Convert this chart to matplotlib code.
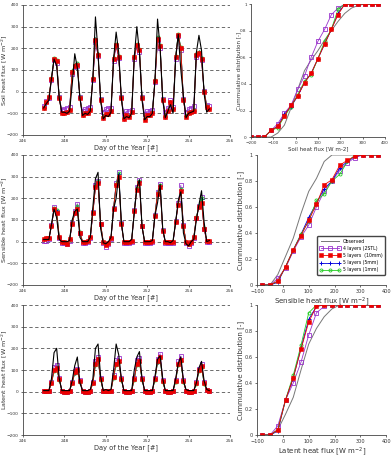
import numpy as np
import matplotlib
matplotlib.use('Agg')
import matplotlib.pyplot as plt

# 3-hourly time axis, day of year 247 - 255
doy = [247 + k * 0.125 for k in range(65)]

# Soil heat flux [W m-2]
soil_obs = [-75, -55, -40, 60, 150, 120, -30, -95,
            -95, -100, -90, 30, 175, 110, -30, -110,
            -100, -105, -90, 60, 345, 180, -40, -125,
            -110, -115, -95, 150, 275, 180, -30, -125,
            -115, -120, -100, 160, 300, 180, -40, -130,
            -115, -115, -100, 50, 335, 200, -40, -120,
            -90, -60, -100, 150, 265, 100, -20, -120,
            -100, -95, -90, 180, 260, 190, -10, -95,
            -80]
soil_l4 = [-65, -45, -30, 55, 145, 130, -25, -85,
           -80, -75, -70, 80, 115, 120, -25, -90,
           -80, -75, -70, 55, 230, 165, -35, -95,
           -80, -75, -75, 140, 210, 155, -25, -105,
           -90, -90, -85, 150, 210, 185, -25, -105,
           -90, -90, -85, 45, 240, 200, -35, -95,
           -75, -40, -70, 150, 255, 190, -35, -95,
           -80, -75, -65, 160, 175, 145, 5, -60,
           -65]
soil_10mm = [-75, -50, -25, 60, 150, 140, -30, -100,
             -100, -95, -85, 90, 120, 125, -30, -110,
             -100, -100, -85, 60, 240, 170, -40, -120,
             -105, -105, -90, 150, 215, 160, -30, -125,
             -110, -115, -95, 160, 215, 190, -30, -130,
             -110, -110, -100, 50, 245, 210, -40, -115,
             -90, -50, -80, 160, 260, 200, -40, -115,
             -100, -95, -90, 170, 180, 150, 0, -70,
             -80]
soil_5mm = [-75, -52, -28, 62, 152, 142, -28, -100,
            -98, -95, -86, 92, 122, 127, -28, -110,
            -100, -98, -86, 62, 242, 172, -38, -120,
            -104, -104, -90, 152, 217, 162, -28, -124,
            -110, -114, -96, 162, 217, 192, -28, -128,
            -110, -110, -98, 52, 247, 212, -38, -115,
            -90, -50, -80, 162, 262, 202, -38, -114,
            -98, -94, -88, 172, 182, 152, 2, -70,
            -80]
soil_1mm = [-74, -50, -26, 64, 155, 145, -26, -98,
            -98, -94, -84, 95, 125, 130, -26, -108,
            -98, -98, -84, 65, 245, 175, -36, -118,
            -102, -103, -88, 155, 220, 165, -26, -122,
            -108, -112, -94, 165, 220, 195, -26, -127,
            -108, -108, -96, 55, 250, 215, -36, -113,
            -88, -48, -78, 165, 265, 205, -36, -112,
            -96, -92, -86, 175, 185, 155, 4, -68,
            -78]

# Sensible heat flux [W m-2]
sens_obs = [10, 10, 10, 80, 150, 110, 10, 0,
            0, 0, 5, 100, 140, 150, 20, 0,
            0, 0, 20, 160, 290, 320, 60, -5,
            -10, 0, 20, 150, 200, 310, 90, 0,
            0, 0, 10, 130, 250, 285, 70, 0,
            0, 0, 5, 120, 180, 265, 60, 0,
            0, -5, 5, 90, 190, 230, 40, -10,
            -20, 0, 10, 100, 170, 235, 90, 0,
            5]
sens_l4 = [5, 5, 10, 75, 160, 135, 15, -5,
           -5, -10, 5, 85, 140, 175, 40, -5,
           -5, 0, 15, 135, 260, 280, 80, -5,
           -25, -10, 10, 155, 270, 320, 85, -5,
           -5, -5, 0, 145, 250, 285, 70, -5,
           -5, -5, 0, 125, 230, 265, 55, -5,
           -5, -5, -5, 95, 180, 260, 75, -5,
           -20, -5, 15, 110, 165, 205, 60, 0,
           0]
sens_10mm = [10, 15, 15, 70, 150, 130, 20, 0,
             0, -10, 10, 80, 130, 150, 40, 0,
             0, 5, 20, 130, 250, 270, 80, 0,
             -15, -5, 15, 150, 260, 300, 80, 0,
             0, 0, 5, 140, 240, 270, 70, 0,
             0, 0, 5, 120, 220, 250, 50, 0,
             0, 0, 0, 90, 170, 235, 70, 0,
             -10, 0, 20, 110, 160, 180, 60, 5,
             5]
sens_5mm = [10, 15, 15, 72, 152, 140, 20, 0,
            0, -8, 10, 82, 132, 160, 42, 0,
            0, 5, 20, 132, 255, 275, 80, 0,
            -12, -5, 15, 152, 262, 310, 82, 0,
            0, 0, 5, 142, 245, 278, 70, 0,
            0, 0, 5, 122, 222, 258, 50, 0,
            0, 0, 0, 92, 172, 240, 70, 0,
            -10, 0, 20, 110, 162, 195, 62, 5,
            5]
sens_1mm = [10, 15, 15, 74, 155, 145, 22, 0,
            0, -8, 10, 84, 135, 165, 44, 0,
            0, 5, 20, 135, 258, 278, 82, 0,
            -12, -5, 15, 155, 265, 315, 84, 0,
            0, 0, 5, 145, 248, 282, 72, 0,
            0, 0, 5, 125, 225, 262, 52, 0,
            0, 0, 0, 95, 175, 245, 72, 0,
            -10, 0, 20, 112, 165, 200, 64, 5,
            5]

# Latent heat flux [W m-2]
lat_obs = [5, 5, 5, 60, 180, 200, 60, 5,
           5, 5, 5, 50, 120, 160, 40, 5,
           5, 5, 10, 60, 200, 220, 70, 5,
           10, 5, 10, 100, 220, 170, 60, 5,
           5, 5, 5, 100, 160, 185, 60, 5,
           5, 5, 5, 70, 150, 165, 60, 5,
           5, 5, 5, 60, 130, 160, 50, 10,
           5, 5, 5, 40, 110, 140, 50, 10,
           5]
lat_l4 = [5, 5, 5, 45, 115, 125, 65, 5,
          0, 0, 5, 45, 95, 105, 55, 5,
          0, 0, 5, 45, 140, 160, 65, 5,
          5, 5, 5, 75, 145, 155, 65, 5,
          0, 0, 5, 65, 145, 155, 65, 5,
          0, 0, 5, 65, 150, 175, 55, 5,
          0, 0, 5, 55, 140, 165, 55, 5,
          0, 0, 5, 45, 105, 130, 45, 10,
          5]
lat_10mm = [5, 5, 5, 40, 100, 110, 60, 5,
            0, 0, 5, 40, 90, 100, 50, 5,
            0, 0, 5, 40, 130, 150, 60, 5,
            5, 5, 5, 70, 130, 140, 60, 5,
            0, 0, 5, 60, 130, 140, 60, 5,
            0, 0, 5, 60, 140, 160, 50, 5,
            0, 0, 5, 50, 130, 145, 50, 5,
            0, 0, 5, 40, 100, 120, 40, 10,
            5]
lat_5mm = [5, 5, 5, 40, 98, 108, 58, 5,
           0, 0, 5, 40, 88, 98, 48, 5,
           0, 0, 5, 40, 128, 148, 58, 5,
           5, 5, 5, 68, 128, 138, 58, 5,
           0, 0, 5, 58, 128, 138, 58, 5,
           0, 0, 5, 58, 138, 158, 48, 5,
           0, 0, 5, 48, 128, 142, 48, 5,
           0, 0, 5, 38, 98, 118, 38, 10,
           5]
lat_1mm = [5, 5, 5, 38, 95, 105, 55, 5,
           0, 0, 5, 38, 85, 95, 45, 5,
           0, 0, 5, 38, 125, 145, 55, 5,
           5, 5, 5, 65, 125, 135, 55, 5,
           0, 0, 5, 55, 125, 135, 55, 5,
           0, 0, 5, 55, 135, 155, 45, 5,
           0, 0, 5, 45, 125, 140, 45, 5,
           0, 0, 5, 35, 95, 115, 35, 10,
           5]

# cumulative distributions
soil_bins = [-200, -170, -140, -110, -80, -50, -20, 10, 40, 70, 100, 130, 160, 190, 220, 250, 280, 310, 340, 370]
soil_cdf_obs = [0, 0, 0, 0, 0.03, 0.09, 0.22, 0.36, 0.50, 0.58, 0.65, 0.73, 0.80, 0.87, 0.93, 0.97, 0.99, 1, 1, 1]
soil_cdf_l4 = [0, 0, 0, 0.05, 0.10, 0.18, 0.24, 0.36, 0.46, 0.60, 0.72, 0.81, 0.92, 0.97, 1, 1, 1, 1, 1, 1]
soil_cdf_10mm = [0, 0, 0, 0.05, 0.08, 0.16, 0.24, 0.31, 0.41, 0.48, 0.59, 0.70, 0.81, 0.92, 1, 1, 1, 1, 1, 1]
soil_cdf_5mm = [0, 0, 0, 0.05, 0.08, 0.17, 0.23, 0.31, 0.41, 0.48, 0.59, 0.70, 0.81, 0.93, 1, 1, 1, 1, 1, 1]
soil_cdf_1mm = [0, 0, 0, 0.05, 0.07, 0.155, 0.23, 0.32, 0.42, 0.47, 0.59, 0.72, 0.81, 0.96, 1, 1, 1, 1, 1, 1]

flux_bins = [-80, -50, -20, 10, 40, 70, 100, 130, 160, 190, 220, 250, 280, 310, 340, 370]
sens_cdf_obs = [0, 0, 0.08, 0.22, 0.36, 0.55, 0.72, 0.82, 0.95, 1, 1, 1, 1, 1, 1, 1]
sens_cdf_l4 = [0, 0, 0.05, 0.13, 0.26, 0.37, 0.46, 0.60, 0.72, 0.80, 0.88, 0.94, 0.98, 1, 1, 1]
sens_cdf_10mm = [0, 0, 0.03, 0.14, 0.27, 0.38, 0.50, 0.62, 0.77, 0.81, 0.92, 0.96, 0.99, 1, 1, 1]
sens_cdf_5mm = [0, 0, 0.02, 0.14, 0.27, 0.39, 0.52, 0.63, 0.74, 0.80, 0.90, 0.95, 0.99, 1, 1, 1]
sens_cdf_1mm = [0, 0, 0.03, 0.14, 0.27, 0.39, 0.49, 0.65, 0.70, 0.80, 0.85, 0.95, 1, 1, 1, 1]

lat_cdf_obs = [0, 0, 0.04, 0.16, 0.29, 0.50, 0.70, 0.82, 0.91, 0.97, 1, 1, 1, 1, 1, 1]
lat_cdf_l4 = [0, 0, 0.07, 0.27, 0.40, 0.56, 0.77, 0.94, 0.99, 1, 1, 1, 1, 1, 1, 1]
lat_cdf_10mm = [0, 0, 0.04, 0.27, 0.44, 0.66, 0.87, 0.99, 1, 1, 1, 1, 1, 1, 1, 1]
lat_cdf_5mm = [0, 0, 0.03, 0.27, 0.44, 0.67, 0.89, 0.99, 1, 1, 1, 1, 1, 1, 1, 1]
lat_cdf_1mm = [0, 0, 0.04, 0.27, 0.46, 0.69, 0.94, 1, 1, 1, 1, 1, 1, 1, 1, 1]

names = ['4 layers (2STL)', '5 layers  (10mm)', '5 layers (5mm)', '5 layers (1mm)']
styles = [dict(color='#9933cc', marker='s', mfc='none', mec='#9933cc', mew=0.6),
          dict(color='#ee0000', marker='s', mfc='#ee0000', mec='#ee0000', mew=0.4),
          dict(color='#0000dd', marker='+', mec='#0000dd', mew=0.7),
          dict(color='#22cc22', marker='o', mfc='none', mec='#22cc22', mew=0.6)]
draw_order = [0, 2, 3, 1]

plt.rcParams['font.family'] = 'DejaVu Sans'
fig = plt.figure(figsize=(3.92, 4.57), dpi=100)

left_pos = [[0.0587, 0.7046, 0.528, 0.2845],
            [0.0587, 0.3764, 0.528, 0.2845],
            [0.0587, 0.0481, 0.528, 0.2845]]
right_pos = [[0.640, 0.700, 0.342, 0.291],
             [0.656, 0.3764, 0.329, 0.2845],
             [0.656, 0.0481, 0.329, 0.2845]]

series = [(soil_obs, [soil_l4, soil_10mm, soil_5mm, soil_1mm], 'Soil heat flux [W m$^{-2}$]'),
          (sens_obs, [sens_l4, sens_10mm, sens_5mm, sens_1mm], 'Sensible heat flux [W m$^{-2}$]'),
          (lat_obs, [lat_l4, lat_10mm, lat_5mm, lat_1mm], 'Latent heat flux [W m$^{-2}$]')]

for i, (obs, models, ylab) in enumerate(series):
    ax = fig.add_axes(left_pos[i])
    for y in [-100, 0, 100, 200, 300, 400]:
        ax.axhline(y, color='#555555', lw=0.6, ls=(0, (4, 3)), zorder=0)
    for j in draw_order:
        ax.plot(doy, models[j], lw=0.6, ms=2.2, **styles[j])
    ax.plot(doy, obs, color='black', lw=0.8)
    ax.set_xlim(246, 256)
    ax.set_ylim(-200, 400)
    ax.set_xticks([246, 248, 250, 252, 254, 256])
    ax.set_yticks([-200, -100, 0, 100, 200, 300, 400])
    ax.spines['top'].set_visible(False)
    ax.spines['right'].set_visible(False)
    for s in ['left', 'bottom']:
        ax.spines[s].set_linewidth(0.6)
        ax.spines[s].set_color('#444444')
    ax.tick_params(labelsize=3.2, length=1.5, width=0.5, pad=1.5, colors='#333333')
    ax.set_xlabel('Day of the Year [#]', fontsize=4.8, labelpad=1, color='#333333')
    ax.set_ylabel(ylab, fontsize=4.6, color='#333333')
    ax.yaxis.set_label_coords(-0.068, 0.5)

cdfs = [(soil_bins, soil_cdf_obs, [soil_cdf_l4, soil_cdf_10mm, soil_cdf_5mm, soil_cdf_1mm],
         'Soil heat flux [W m-2]', -200),
        (flux_bins, sens_cdf_obs, [sens_cdf_l4, sens_cdf_10mm, sens_cdf_5mm, sens_cdf_1mm],
         'Sensible heat flux [W m$^{-2}$]', -100),
        (flux_bins, lat_cdf_obs, [lat_cdf_l4, lat_cdf_10mm, lat_cdf_5mm, lat_cdf_1mm],
         'Latent heat flux [W m$^{-2}$]', -100)]

for i, (bins, obs, models, xlab, xmin) in enumerate(cdfs):
    ax = fig.add_axes(right_pos[i])
    ax.plot(bins, obs, color='#777777', lw=0.7, label='Observed')
    for j in draw_order:
        ax.plot(bins, models[j], lw=0.6, ms=2.2, label=names[j], **styles[j])
    ax.set_xlim(xmin, 400)
    ax.set_ylim(0, 1)
    if xmin == -200:
        ax.set_xticks([-200, -100, 0, 100, 200, 300, 400])
        small = 3
        lab = 4
        lab_x = -0.07
    else:
        ax.set_xticks([-100, 0, 100, 200, 300, 400])
        small = 3.6
        lab = 5
        lab_x = -0.1
    ax.set_yticks([0, 0.2, 0.4, 0.6, 0.8, 1])
    ax.set_yticklabels(['0', '0.2', '0.4', '0.6', '0.8', '1'])
    ax.spines['top'].set_visible(False)
    ax.spines['right'].set_visible(False)
    for s in ['left', 'bottom']:
        ax.spines[s].set_linewidth(0.6)
        ax.spines[s].set_color('#444444')
    ax.tick_params(labelsize=small, length=1.5, width=0.5, pad=1.5, colors='#333333')
    ax.set_xlabel(xlab, fontsize=lab, labelpad=1, color='#333333')
    ax.set_ylabel('Cummulative distribution [-]', fontsize=lab, color='#333333')
    ax.yaxis.set_label_coords(lab_x, 0.5)
    if i == 1:
        h, l = ax.get_legend_handles_labels()
        order = [0, 1, 4, 2, 3]
        ax.legend([h[k] for k in order], [l[k] for k in order], loc='lower right',
                  bbox_to_anchor=(1.0, 0.07), fontsize=3.3, numpoints=3, handlelength=4.5,
                  frameon=True, fancybox=True, edgecolor='#444444', framealpha=1,
                  borderpad=0.6, labelspacing=0.45, handletextpad=0.5, borderaxespad=0.2)

fig.savefig('out.png', dpi=100)
